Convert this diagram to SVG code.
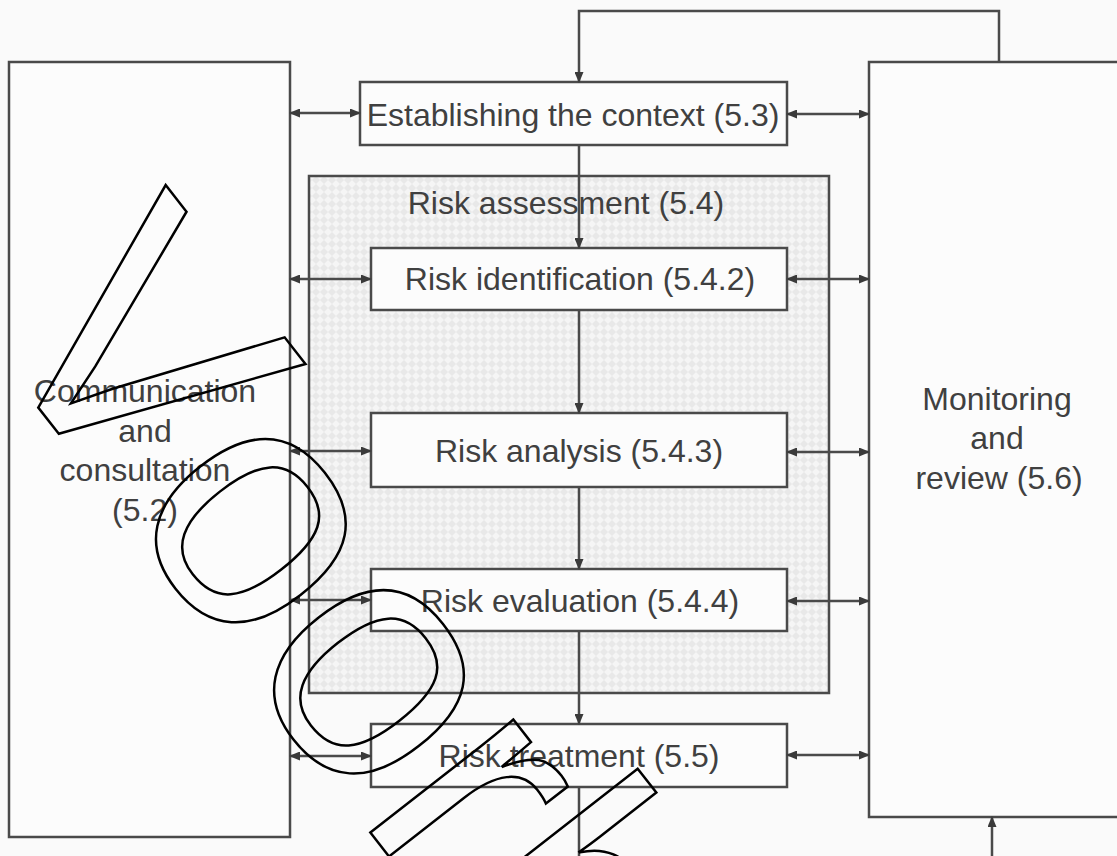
<svg xmlns="http://www.w3.org/2000/svg" width="1117" height="856" viewBox="0 0 1117 856">
<style>
.box{fill:#fcfcfc;stroke:#4a4a4a;stroke-width:2.5}
.lbl{font-family:"Liberation Sans",Arial,sans-serif;font-size:32px;fill:#404040;text-anchor:middle}
.con{fill:none;stroke:#4a4a4a;stroke-width:2.5}
.wm{font-family:"Liberation Sans",Arial,sans-serif;font-size:345px;fill:none;stroke:#000;stroke-width:2.5;font-kerning:none}
</style>
<defs>
<pattern id="hatch" width="8" height="8" patternUnits="userSpaceOnUse">
<rect width="8" height="8" fill="#f5f5f5"/>
<path d="M0,4 L4,0 L8,4 L4,8 z" fill="#e8e8e8"/>
</pattern>
<marker id="ah" markerUnits="userSpaceOnUse" markerWidth="11" markerHeight="9" refX="10" refY="4.5" orient="auto-start-reverse">
<path d="M0,0 L11,4.5 L0,9 z" fill="#3a3a3a"/>
</marker>
</defs>
<rect width="1117" height="856" fill="#fafafa"/>
<g id="communication">
<rect class="box" x="9" y="62" width="281" height="775" fill="#fafafa"/>
<text class="lbl" x="145" y="402">Communication</text>
<text class="lbl" x="145" y="442">and</text>
<text class="lbl" x="145" y="481">consultation</text>
<text class="lbl" x="145" y="521">(5.2)</text>
</g>
<g id="monitoring">
<rect class="box" x="869" y="62" width="260" height="755" fill="#fafafa"/>
<text class="lbl" x="997" y="410">Monitoring</text>
<text class="lbl" x="997" y="449">and</text>
<text class="lbl" x="999" y="489">review (5.6)</text>
</g>
<g id="risk-assessment">
<rect x="309" y="176" width="520" height="517" fill="url(#hatch)" stroke="#4a4a4a" stroke-width="2.5"/>
<text class="lbl" x="566" y="214">Risk assessment (5.4)</text>
</g>
<g id="context">
<rect class="box" x="360" y="82" width="427" height="63"/>
<text class="lbl" x="573" y="126">Establishing the context (5.3)</text>
</g>
<g id="identification">
<rect class="box" x="371" y="248" width="416" height="62"/>
<text class="lbl" x="580" y="290">Risk identification (5.4.2)</text>
</g>
<g id="analysis">
<rect class="box" x="371" y="413" width="416" height="74"/>
<text class="lbl" x="579" y="462">Risk analysis (5.4.3)</text>
</g>
<g id="evaluation">
<rect class="box" x="371" y="569" width="416" height="62"/>
<text class="lbl" x="580" y="612">Risk evaluation (5.4.4)</text>
</g>
<g id="treatment">
<rect class="box" x="371" y="724" width="416" height="63"/>
<text class="lbl" x="579" y="767">Risk treatment (5.5)</text>
</g>
<g id="connectors">
<path class="con" d="M999,62 V11 H579 V82" marker-end="url(#ah)"/>
<path class="con" d="M579,145 V248" marker-end="url(#ah)"/>
<path class="con" d="M579,310 V413" marker-end="url(#ah)"/>
<path class="con" d="M579,487 V569" marker-end="url(#ah)"/>
<path class="con" d="M579,631 V724" marker-end="url(#ah)"/>
<path class="con" d="M579,787 V856"/>
<path class="con" d="M992,856 V817" marker-end="url(#ah)"/>
<path class="con" d="M290,113 H360" marker-start="url(#ah)" marker-end="url(#ah)"/>
<path class="con" d="M290,279 H371" marker-start="url(#ah)" marker-end="url(#ah)"/>
<path class="con" d="M290,451 H371" marker-start="url(#ah)" marker-end="url(#ah)"/>
<path class="con" d="M290,600 H371" marker-start="url(#ah)" marker-end="url(#ah)"/>
<path class="con" d="M290,756 H371" marker-start="url(#ah)" marker-end="url(#ah)"/>
<path class="con" d="M787,114 H869" marker-start="url(#ah)" marker-end="url(#ah)"/>
<path class="con" d="M787,279 H869" marker-start="url(#ah)" marker-end="url(#ah)"/>
<path class="con" d="M787,452 H869" marker-start="url(#ah)" marker-end="url(#ah)"/>
<path class="con" d="M787,601 H869" marker-start="url(#ah)" marker-end="url(#ah)"/>
<path class="con" d="M787,755 H869" marker-start="url(#ah)" marker-end="url(#ah)"/>
</g>
<g id="watermark">
<text class="wm" transform="translate(-22.3,330) rotate(52)">Voorbeeld</text>
</g>
</svg>
